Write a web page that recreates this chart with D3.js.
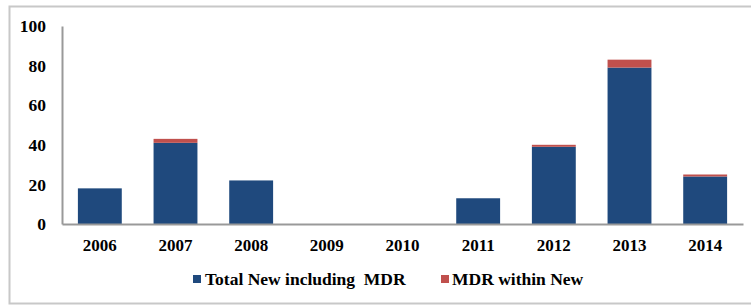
<!DOCTYPE html>
<html>
<head>
<meta charset="utf-8">
<script src="https://d3js.org/d3.v7.min.js"></script>
<style>
  body { margin: 0; background: #fff; }
  svg { display: block; }
  svg text { font-family: 'Liberation Serif', 'Times New Roman', serif; font-weight: bold; fill: #000; }
</style>
</head>
<body>
<svg id="mainsvg" width="751" height="305"></svg>
<script>
const years = ['2006', '2007', '2008', '2009', '2010', '2011', '2012', '2013', '2014'];
const totalNew = [18, 41, 22, 0, 0, 13, 39, 79, 24];
const mdrNew = [0, 2, 0, 0, 0, 0, 1, 4, 1];
const yTicks = [0, 20, 40, 60, 80, 100];
const seriesNames = ['Total New including  MDR', 'MDR within New'];
const colors = ['#1f497d', '#c0504d'];

const svg = d3.select('#mainsvg');
const width = +svg.attr('width');
const height = +svg.attr('height');
const margin = {top: 26, right: 8, bottom: 81, left: 62};
const innerWidth = width - margin.left - margin.right;
const innerHeight = height - margin.top - margin.bottom;

// frame (right side runs off the page like in the original)
svg.append('rect')
    .attr('x', 9.5).attr('y', 6.5)
    .attr('width', 760).attr('height', 297)
    .attr('fill', 'none')
    .attr('stroke', '#c8c8c8')
    .attr('stroke-width', 2);

const g = svg.append('g')
    .attr('transform', `translate(${margin.left}, ${margin.top})`);

const xScale = d3.scaleBand()
    .domain(years)
    .range([0, innerWidth])
    .paddingInner(0.42)
    .paddingOuter(0.21);

const yScale = d3.scaleLinear()
    .domain([0, 100])
    .range([innerHeight, 0]);

const stackData = years.map((y, i) => ({year: y, total: totalNew[i], mdr: mdrNew[i]}));
const stacked = d3.stack().keys(['total', 'mdr'])(stackData);

g.selectAll('.series')
    .data(stacked)
    .enter().append('g')
    .attr('fill', (d, i) => colors[i])
    .selectAll('rect')
    .data(d => d)
    .enter().append('rect')
    .attr('x', d => xScale(d.data.year))
    .attr('width', xScale.bandwidth())
    .attr('y', d => yScale(d[1]))
    .attr('height', d => yScale(d[0]) - yScale(d[1]));

const yAxis = d3.axisLeft(yScale).tickValues(yTicks).tickSize(0).tickPadding(16);
const yAxisG = g.append('g').call(yAxis)
    .attr('font-family', null).attr('font-size', '17.5px');
yAxisG.select('.domain').attr('stroke', '#999').attr('stroke-width', 2);

const xAxis = d3.axisBottom(xScale).tickSize(0).tickPadding(15);
const xAxisG = g.append('g')
    .attr('transform', `translate(0, ${innerHeight})`)
    .call(xAxis)
    .attr('font-family', null).attr('font-size', '17px');
xAxisG.select('.domain').attr('stroke', '#999').attr('stroke-width', 2);

// legend
const legendPos = [[193, 205], [441, 452]];
const legend = svg.append('g').attr('font-size', '17.5px');
seriesNames.forEach((name, i) => {
    legend.append('rect')
        .attr('x', legendPos[i][0]).attr('y', 275)
        .attr('width', 8).attr('height', 8)
        .attr('fill', colors[i]);
    legend.append('text')
        .attr('x', legendPos[i][1]).attr('y', 285)
        .style('white-space', 'pre')
        .text(name);
});
</script>
</body>
</html>
